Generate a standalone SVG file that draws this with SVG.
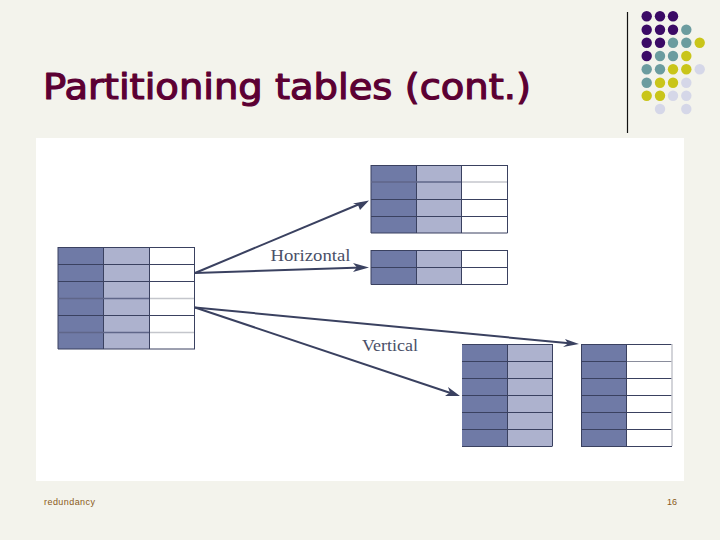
<svg xmlns="http://www.w3.org/2000/svg" width="720" height="540" viewBox="0 0 720 540">
<style>
.d{fill:#fff;stroke:none}
.c1{fill:#6f7aa6}.c2{fill:#adb2ce}.c3{fill:#fff}
.g{stroke:#3a4160;stroke-width:1;fill:none}
.s{stroke:#5f6689;stroke-width:1.500;fill:none}
.s2{stroke:#c4c6cc;stroke-width:1.500;fill:none}
.p{fill:#3b0a66}.t{fill:#6b9c9f}.y{fill:#c9c51a}.l{fill:#d5d7e8}
.cn{stroke:#3a4160;stroke-width:2;fill:none}
.h{fill:#3a4160;stroke:none}
.lab{font-family:"Liberation Serif",serif;font-size:16px;fill:#4a5068}
.ft{font-family:"Liberation Sans",sans-serif;font-size:9px;fill:#8a5a20}
</style>
<rect width="720" height="540" fill="#f3f3ec"/>
<g id="decor">
<line x1="627.5" y1="12" x2="627.5" y2="133" stroke="#111" stroke-width="1.2"/>
<g id="dots">
<circle class="p" cx="646.7" cy="16.3" r="5.2"/><circle class="p" cx="660" cy="16.3" r="5.2"/><circle class="p" cx="673" cy="16.3" r="5.2"/>
<circle class="p" cx="646.7" cy="29.7" r="5.2"/><circle class="p" cx="660" cy="29.7" r="5.2"/><circle class="p" cx="673" cy="29.7" r="5.2"/><circle class="t" cx="686.3" cy="29.7" r="5.2"/>
<circle class="p" cx="646.7" cy="42.7" r="5.2"/><circle class="p" cx="660" cy="42.7" r="5.2"/><circle class="t" cx="673" cy="42.7" r="5.2"/><circle class="t" cx="686.3" cy="42.7" r="5.2"/><circle class="y" cx="699.7" cy="42.7" r="5.2"/>
<circle class="p" cx="646.7" cy="56" r="5.2"/><circle class="t" cx="660" cy="56" r="5.2"/><circle class="t" cx="673" cy="56" r="5.2"/><circle class="y" cx="686.3" cy="56" r="5.2"/>
<circle class="t" cx="646.7" cy="69.3" r="5.2"/><circle class="t" cx="660" cy="69.3" r="5.2"/><circle class="y" cx="673" cy="69.3" r="5.2"/><circle class="y" cx="686.3" cy="69.3" r="5.2"/><circle class="l" cx="699.7" cy="69.3" r="5.2"/>
<circle class="t" cx="646.7" cy="82.7" r="5.2"/><circle class="y" cx="660" cy="82.7" r="5.2"/><circle class="y" cx="673" cy="82.7" r="5.2"/><circle class="l" cx="686.3" cy="82.7" r="5.2"/>
<circle class="y" cx="646.7" cy="95.7" r="5.2"/><circle class="y" cx="660" cy="95.7" r="5.2"/><circle class="l" cx="673" cy="95.7" r="5.2"/><circle class="l" cx="686.3" cy="95.7" r="5.2"/>
<circle class="l" cx="660" cy="109" r="5.2"/><circle class="l" cx="686.3" cy="109" r="5.2"/>
</g>
</g>
<text id="title" x="43" y="99" textLength="488" lengthAdjust="spacingAndGlyphs" font-family="'DejaVu Sans',sans-serif" font-size="36" fill="#5c0033" stroke="#5c0033" stroke-width="1.200" stroke-linejoin="round">Partitioning tables (cont.)</text>
<rect class="d" x="36" y="138" width="648" height="343"/>
<g id="table-source">
<rect class="c1" x="58" y="247" width="46" height="102"/><rect class="c2" x="104" y="247" width="45.500" height="102"/>
<path class="g" d="M58 247.500H195M58 264.500H195M58 281.500H195M58 315.500H195M58 349H195M58 247V349M103.500 247V349M149.500 247V349M194.500 247V349"/>
<path class="s" d="M58 298.500H149M58 332.500H149"/><path class="s2" d="M150 298.500H194M150 332.500H194"/>
</g>
<g id="table-h1">
<rect class="c1" x="371" y="165" width="46" height="68"/><rect class="c2" x="417" y="165" width="45" height="68"/>
<path class="g" d="M371 165.500H507.500M371 199.500H507.500M371 216.500H507.500M371 233H507.500M371 165V233M416.500 165V233M461.500 165V233M507.500 165V233"/>
<path class="s" d="M371 182H461"/><path class="s2" d="M462 182H507"/>
</g>
<g id="table-h2">
<rect class="c1" x="371" y="250" width="46" height="34"/><rect class="c2" x="417" y="250" width="45" height="34"/>
<path class="g" d="M371 250.500H507.500M371 267.500H507.500M371 284.500H507.500M371 250V284.500M416.500 250V284.500M461.500 250V284.500M507.500 250V284.500"/>
</g>
<g id="table-v1">
<rect class="c1" x="462" y="344" width="45.500" height="102"/><rect class="c2" x="507.500" y="344" width="45" height="102"/>
<path class="g" d="M462 344.500H552.500M462 361.500H552.500M462 378.500H552.500M462 395.500H552.500M462 412.500H552.500M462 429.500H552.500M462 446.500H552.500M507.500 344V446M552.500 344V446"/>
</g>
<g id="table-v2">
<rect class="c1" x="581" y="344" width="46" height="102"/>
<path class="g" d="M581 344.500H672M581 361.500H627M581 378.500H672M581 395.500H672M581 412.500H672M581 429.500H672M581 446.500H672M581.500 344V446M626.500 344V446"/>
<line x1="627" y1="361.500" x2="672" y2="361.500" stroke="#8a8d9c" stroke-width="1"/>
<line x1="672" y1="344" x2="672" y2="446" stroke="#c4c6cc" stroke-width="1.500"/>
</g>
<g id="connectors">
<line class="cn" x1="195" y1="273" x2="362" y2="203"/>
<path class="h" d="M369 200.500L353 203.500L358 205L360 210Z"/>
<line class="cn" x1="195" y1="273" x2="362" y2="267.500"/>
<path class="h" d="M369 267.500L353 263L357 267.500L353 272Z"/>
<line class="cn" x1="195" y1="307.500" x2="572" y2="343.500"/>
<path class="h" d="M579 344L565 339L568 343.500L563 347Z"/>
<line class="cn" x1="195" y1="307.500" x2="452" y2="393.500"/>
<path class="h" d="M460 396L448 387L450 392.500L445 396Z"/>
</g>
<text class="lab" x="270.500" y="261" textLength="80" lengthAdjust="spacingAndGlyphs">Horizontal</text>
<text class="lab" x="362" y="351" textLength="56" lengthAdjust="spacingAndGlyphs">Vertical</text>
<text class="ft" x="44" y="505" textLength="51" lengthAdjust="spacing">redundancy</text>
<text class="ft" x="667" y="505">16</text>
</svg>
